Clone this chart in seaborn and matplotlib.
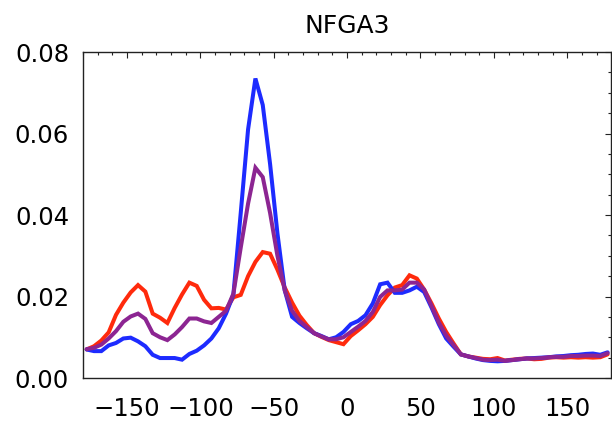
import numpy as np
import pandas as pd
import matplotlib
matplotlib.use("Agg")
import matplotlib.pyplot as plt
import seaborn as sns
from matplotlib.ticker import MultipleLocator

# Dihedral angle bin centres (degrees), 5-degree bins
phi = [-177.5 + 5 * k for k in range(72)]

red = [0.0070, 0.0078, 0.0092, 0.0112, 0.0155, 0.0185, 0.0210, 0.0228, 0.0212, 0.0158,
       0.0148, 0.0135, 0.0172, 0.0205, 0.0234, 0.0226, 0.0192, 0.0171, 0.0172, 0.0168,
       0.0198, 0.0204, 0.0250, 0.0285, 0.0309, 0.0305, 0.0266, 0.0222, 0.0185, 0.0153,
       0.0130, 0.0110, 0.0101, 0.0093, 0.0088, 0.0083, 0.0103, 0.0117, 0.0132, 0.0150,
       0.0179, 0.0203, 0.0222, 0.0228, 0.0252, 0.0244, 0.0217, 0.0183, 0.0146, 0.0113,
       0.0085, 0.0058, 0.0053, 0.0050, 0.0047, 0.0046, 0.0049, 0.0043, 0.0045, 0.0047,
       0.0048, 0.0046, 0.0047, 0.0050, 0.0051, 0.0050, 0.0051, 0.0050, 0.0051, 0.0050,
       0.0051, 0.0058]

blue = [0.0070, 0.0066, 0.0066, 0.0080, 0.0086, 0.0097, 0.0099, 0.0090, 0.0078, 0.0057,
        0.0049, 0.0049, 0.0049, 0.0045, 0.0059, 0.0067, 0.0080, 0.0097, 0.0122, 0.0158,
        0.0205, 0.0405, 0.0610, 0.0735, 0.0670, 0.0525, 0.0355, 0.0215, 0.0150, 0.0135,
        0.0122, 0.0110, 0.0103, 0.0095, 0.0100, 0.0113, 0.0132, 0.0140, 0.0154, 0.0183,
        0.0230, 0.0234, 0.0209, 0.0209, 0.0215, 0.0224, 0.0211, 0.0173, 0.0132, 0.0097,
        0.0077, 0.0058, 0.0053, 0.0048, 0.0044, 0.0042, 0.0041, 0.0042, 0.0044, 0.0046,
        0.0048, 0.0049, 0.0050, 0.0051, 0.0053, 0.0054, 0.0056, 0.0057, 0.0059, 0.0060,
        0.0057, 0.0063]

purple = [0.0071, 0.0074, 0.0082, 0.0097, 0.0115, 0.0138, 0.0151, 0.0158, 0.0145, 0.0110,
          0.0100, 0.0093, 0.0107, 0.0125, 0.0146, 0.0146, 0.0139, 0.0135, 0.0150, 0.0165,
          0.0207, 0.0320, 0.0428, 0.0516, 0.0493, 0.0405, 0.0300, 0.0215, 0.0165, 0.0140,
          0.0125, 0.0110, 0.0102, 0.0095, 0.0095, 0.0100, 0.0113, 0.0126, 0.0140, 0.0162,
          0.0199, 0.0215, 0.0215, 0.0217, 0.0234, 0.0234, 0.0217, 0.0177, 0.0136, 0.0104,
          0.0081, 0.0058, 0.0053, 0.0049, 0.0045, 0.0044, 0.0045, 0.0042, 0.0044, 0.0046,
          0.0048, 0.0048, 0.0049, 0.0051, 0.0052, 0.0052, 0.0054, 0.0054, 0.0055, 0.0055,
          0.0054, 0.0061]

x_ticks = [-150, -100, -50, 0, 50, 100, 150]
y_ticks = [0.00, 0.02, 0.04, 0.06, 0.08]

series = [("red", red, "#ff2a0c"), ("blue", blue, "#1d2bff"), ("purple", purple, "#8c2592")]

sns.set_style("white")
plt.rcParams["font.family"] = ["DejaVu Sans"]
plt.rcParams["text.color"] = "black"
plt.rcParams["xtick.labelcolor"] = "black"
plt.rcParams["ytick.labelcolor"] = "black"

fig = plt.figure(figsize=(6.12, 4.28), dpi=100)
ax = fig.add_axes([0.1356, 0.1168, 0.8632, 0.7617])

for name, vals, col in series:
    df = pd.DataFrame({"phi": phi, "p": vals})
    sns.lineplot(data=df, x="phi", y="p", ax=ax, color=col, lw=2.9,
                 solid_joinstyle="miter", legend=False)

ax.set_xlim(-180, 180)
ax.set_ylim(0, 0.08)
ax.set_xticks(x_ticks)
ax.set_yticks(y_ticks)
ax.set_yticklabels([f"{v:.2f}" for v in y_ticks])
ax.xaxis.set_minor_locator(MultipleLocator(10))
ax.yaxis.set_minor_locator(MultipleLocator(0.005))
ax.set_xlabel("")
ax.set_ylabel("")

for s in ax.spines.values():
    s.set_visible(True)
    s.set_color("#222222")
    s.set_linewidth(1.0)

ax.tick_params(which="both", direction="in", top=True, right=True,
               color="#222222", width=0.8, labelcolor="black")
ax.tick_params(which="major", length=4.5, labelsize=17.5)
ax.tick_params(which="minor", length=2.5)
ax.tick_params(axis="x", which="major", pad=14)
ax.tick_params(axis="y", which="major", pad=10)

ax.set_title("NFGA3", fontsize=18, pad=14, color="black")

fig.savefig("out.png", dpi=100)
